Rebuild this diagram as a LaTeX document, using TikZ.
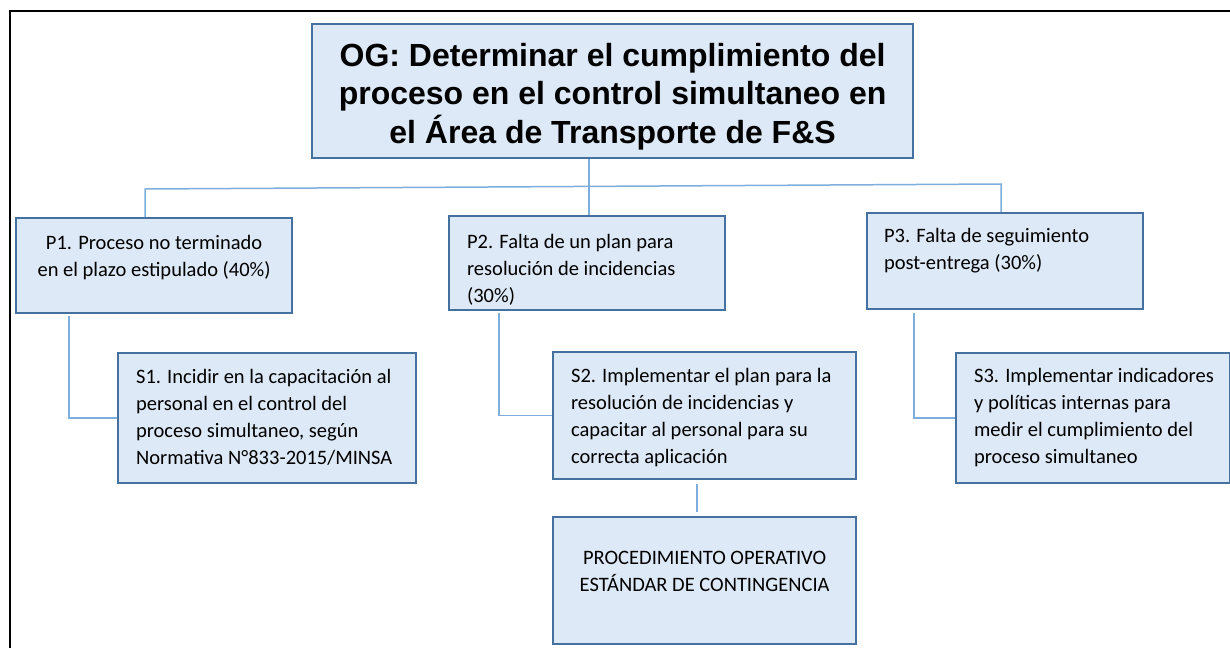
\documentclass[tikz,border=0pt]{standalone}
\usepackage{fontspec}
\newfontfamily\carl{Carlito}
\newfontfamily\arialf{Liberation Sans}
\definecolor{boxfill}{RGB}{221,233,246}
\definecolor{boxline}{RGB}{68,113,160}
\definecolor{connc}{RGB}{126,174,221}
\newcommand{\bxt}[3]{\parbox[c][#2][t]{#1}{#3\strut}}
\begin{document}
\begin{tikzpicture}[x=1pt,y=-1pt,
  bx/.style={draw=boxline, fill=boxfill, line width=2.2pt, inner sep=0pt, anchor=north west,
    font=\carl\fontsize{20.5}{27}\selectfont},
  conn/.style={draw=connc, line width=1.5pt},
  frame/.style={draw=black, line width=2.5pt}]
\useasboundingbox (0,0) rectangle (1230,648);
\fill[white] (0,0) rectangle (1230,648);
\draw[frame] (10,648) -- (10,11) -- (1231,11);

\node[bx, minimum width=601pt, minimum height=134pt,
  font=\arialf\bfseries\fontsize{32}{38.5}\selectfont] (OG) at (311,23)
  {\parbox[c][120pt][c]{598pt}{\centering\vspace*{11pt}OG: Determinar el cumplimiento del\\proceso en el control simultaneo en\\el Área de Transporte de F\&S}};

\node[bx, minimum width=276pt, minimum height=95pt] (P1) at (15,217)
  {\bxt{256pt}{71pt}{\centering\strut P1. Proceso no terminado\\en el plazo estipulado (40\%)}};
\node[bx, minimum width=276pt, minimum height=94pt] (P2) at (448,215)
  {\bxt{240pt}{68pt}{\raggedright\strut P2. Falta de un plan para\\resolución de incidencias\\(30\%)}};
\node[bx, minimum width=276pt, minimum height=96pt] (P3) at (866,212)
  {\bxt{242pt}{76pt}{\raggedright\strut P3. Falta de seguimiento\\post-entrega (30\%)}};

\node[bx, minimum width=298pt, minimum height=130pt] (S1) at (117,352)
  {\bxt{262pt}{108pt}{\raggedright\strut S1. Incidir en la capacitación al\\personal en el control del\\proceso simultaneo, según\\Normativa N°833-2015/MINSA}};
\node[bx, minimum width=303pt, minimum height=127pt] (S2) at (552,351)
  {\bxt{267pt}{105pt}{\raggedright\strut S2. Implementar el plan para la\\resolución de incidencias y\\capacitar al personal para su\\correcta aplicación}};
\node[bx, minimum width=274pt, minimum height=130pt] (S3) at (955,352)
  {\bxt{238pt}{110pt}{\raggedright\hfuzz=50pt\strut\mbox{S3. Implementar indicadores}\\y políticas internas para\\medir el cumplimiento del\\proceso simultaneo}};
\node[bx, minimum width=303pt, minimum height=127pt] (PR) at (552,516)
  {\bxt{283pt}{71pt}{\centering\strut PROCEDIMIENTO OPERATIVO\\ESTÁNDAR DE CONTINGENCIA}};

\coordinate (j2) at (589,187);
\coordinate (bl) at (145,189);
\coordinate (br) at (1001,184);
\draw[conn] (OG.south -| j2) -- (P2.north -| j2);
\draw[conn] (P1.north -| bl) -- (bl) -- (br) -- (P3.north -| br);
\draw[conn] ([xshift=54pt,yshift=-2pt]P1.south west) |- (S1.west);
\draw[conn] ([xshift=51pt,yshift=-2pt]P2.south west) |- (S2.west);
\draw[conn] ([xshift=48pt,yshift=-3pt]P3.south west) |- (S3.west);
\draw[conn] ([xshift=-7.5pt,yshift=-4pt]S2.south) -- ([xshift=-7.5pt,yshift=4pt]PR.north);
\end{tikzpicture}
\end{document}
